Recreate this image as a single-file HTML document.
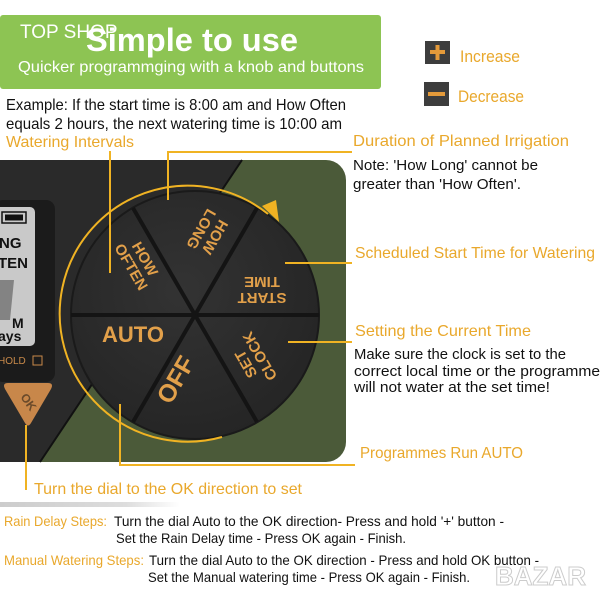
<!DOCTYPE html>
<html><head><meta charset="utf-8"><style>
html,body{margin:0;padding:0;background:#fff;}
svg{display:block;font-family:"Liberation Sans",sans-serif;}
.o{fill:#e9a82c;}
.k{fill:#111;}
.d{fill:#e2a04a;font-weight:bold;}
</style></head><body>
<svg width="600" height="600" viewBox="0 0 600 600" xmlns="http://www.w3.org/2000/svg">
<defs>
<linearGradient id="sh" x1="0" x2="1"><stop offset="0" stop-color="#ccc"/><stop offset="0.7" stop-color="#ddd"/><stop offset="1" stop-color="#fff"/></linearGradient>
<radialGradient id="dial" cx="0.45" cy="0.4" r="0.7"><stop offset="0" stop-color="#333"/><stop offset="1" stop-color="#232323"/></radialGradient>
</defs>
<rect x="0" y="15" width="381" height="74" rx="3" fill="#8dc453"/>
<text x="20" y="38" font-size="19" fill="#fff">TOP SHOP</text>
<text x="86" y="51" font-size="32" font-weight="bold" fill="#fff" textLength="212" lengthAdjust="spacingAndGlyphs">Simple to use</text>
<text x="18" y="72" font-size="16" fill="#fff" textLength="346" lengthAdjust="spacingAndGlyphs">Quicker programmging with a knob and buttons</text>
<rect x="425" y="41" width="25" height="23" fill="#3d3d3d"/>
<rect x="430" y="50" width="15" height="4" fill="#e49a3a"/><rect x="435.5" y="45" width="4" height="15" fill="#e49a3a"/>
<text x="460" y="62" font-size="17" class="o" textLength="60" lengthAdjust="spacingAndGlyphs">Increase</text>
<rect x="424" y="82" width="25" height="24" fill="#3d3d3d"/>
<rect x="428" y="92" width="17" height="4" fill="#e49a3a"/>
<text x="458" y="102" font-size="17" class="o" textLength="66" lengthAdjust="spacingAndGlyphs">Decrease</text>
<text x="6" y="110" font-size="16" class="k" textLength="340" lengthAdjust="spacingAndGlyphs">Example: If the start time is 8:00 am and How Often</text>
<text x="6" y="129" font-size="16" class="k" textLength="336" lengthAdjust="spacingAndGlyphs">equals 2 hours, the next watering time is 10:00 am</text>
<text x="6" y="147" font-size="16" class="o" textLength="128" lengthAdjust="spacingAndGlyphs">Watering Intervals</text>
<text x="353" y="146" font-size="16" class="o" textLength="216" lengthAdjust="spacingAndGlyphs">Duration of Planned Irrigation</text>
<text x="353" y="170" font-size="15" class="k" textLength="185" lengthAdjust="spacingAndGlyphs">Note: 'How Long' cannot be</text>
<text x="353" y="189" font-size="15" class="k" textLength="168" lengthAdjust="spacingAndGlyphs">greater than 'How Often'.</text>
<text x="355" y="258" font-size="16" class="o" textLength="240" lengthAdjust="spacingAndGlyphs">Scheduled Start Time for Watering</text>
<text x="355" y="336" font-size="16" class="o" textLength="176" lengthAdjust="spacingAndGlyphs">Setting the Current Time</text>
<text x="354" y="359" font-size="15" class="k" textLength="212" lengthAdjust="spacingAndGlyphs">Make sure the clock is set to the</text>
<text x="354" y="376" font-size="15" class="k" textLength="246" lengthAdjust="spacingAndGlyphs">correct local time or the programme</text>
<text x="354" y="392" font-size="15" class="k" textLength="196" lengthAdjust="spacingAndGlyphs">will not water at the set time!</text>
<text x="360" y="458" font-size="16" class="o" textLength="163" lengthAdjust="spacingAndGlyphs">Programmes Run AUTO</text>
<text x="34" y="494" font-size="16" class="o" textLength="268" lengthAdjust="spacingAndGlyphs">Turn the dial to the OK direction to set</text>
<rect x="0" y="502" width="180" height="5" fill="url(#sh)"/>
<rect x="0" y="160" width="346" height="302" rx="20" fill="#4b5a39"/>
<rect x="0" y="160" width="30" height="302" fill="#2a2a2a"/>
<polygon points="0,160 242,160 40,462 0,462" fill="#2a2a2a"/>
<line x1="242" y1="160" x2="40" y2="462" stroke="#111" stroke-width="2"/>
<rect x="-6" y="200" width="61" height="182" rx="9" fill="#1b1b1b"/>
<rect x="-6" y="207" width="41" height="139" rx="5" fill="#c9c9c9"/>
<rect x="2" y="212" width="24" height="11" fill="none" stroke="#111" stroke-width="1.5"/>
<rect x="5" y="214.5" width="18" height="6" fill="#111"/>
<text x="-1" y="248" font-size="15" font-weight="bold" fill="#111">NG</text>
<text x="-2" y="268" font-size="15" font-weight="bold" fill="#111">TEN</text>
<path d="M-4,280 L14,280 L10,320 L-4,320Z" fill="#555" opacity="0.6"/>
<text x="12" y="328" font-size="14" font-weight="bold" fill="#111">M</text>
<text x="-2" y="341" font-size="14" font-weight="bold" fill="#111">ays</text>
<text x="-2" y="364" font-size="10" fill="#c98a4a">HOLD</text>
<rect x="33" y="356" width="9" height="9" fill="none" stroke="#c98a4a"/>
<path d="M8,383 L48,383 Q54,383 51,389 L31,423 Q28,428 25,423 L5,389 Q2,383 8,383Z" fill="#c8874a"/>
<text x="0" y="0" font-size="12" font-weight="bold" fill="#6a4a2a" transform="translate(20,397) rotate(55)">OK</text>
<circle cx="195" cy="315" r="124" fill="url(#dial)" stroke="#1a1a1a" stroke-width="2"/>
<g stroke="#141414" stroke-width="4">
<line x1="195" y1="315" x2="319" y2="315"/><line x1="195" y1="315" x2="71" y2="315"/>
<line x1="195" y1="315" x2="257" y2="208"/><line x1="195" y1="315" x2="133" y2="208"/>
<line x1="195" y1="315" x2="257" y2="422"/><line x1="195" y1="315" x2="133" y2="422"/>
</g>
<g class="d" font-size="15" text-anchor="middle">
<g transform="translate(208,233) rotate(120)"><text x="0" y="-3">HOW</text><text x="0" y="13">LONG</text></g>
<g transform="translate(138,263) rotate(60)"><text x="0" y="-3">HOW</text><text x="0" y="13">OFTEN</text></g>
<g transform="translate(262,290) rotate(180)"><text x="0" y="-3">START</text><text x="0" y="13">TIME</text></g>
<g transform="translate(253,360) rotate(-120)"><text x="0" y="-3">SET</text><text x="0" y="13">CLOCK</text></g>
<text x="133" y="342" font-size="22">AUTO</text>
<text x="0" y="0" font-size="25" transform="translate(183,384) rotate(-60)">OFF</text>
</g>
<g stroke="#f0b323" stroke-width="2" fill="none">
<path d="M222,437 A128,128 0 1 1 268,214"/>
<line x1="110" y1="151" x2="110" y2="273"/>
<polyline points="168,200 168,152 352,152"/>
<line x1="285" y1="263" x2="352" y2="263"/>
<line x1="288" y1="342" x2="352" y2="342"/>
<polyline points="120,404 120,465 355,465"/>
<line x1="26" y1="425" x2="26" y2="490"/>
</g>
<polygon points="262,206 276,200 279,222" fill="#f0b323"/>
<text x="4" y="526" font-size="14" class="o" textLength="103" lengthAdjust="spacingAndGlyphs">Rain Delay Steps:</text>
<text x="114" y="526" font-size="14" class="k" textLength="390" lengthAdjust="spacingAndGlyphs">Turn the dial Auto to the OK direction- Press and hold '+' button -</text>
<text x="116" y="543" font-size="14" class="k" textLength="290" lengthAdjust="spacingAndGlyphs">Set the Rain Delay time - Press OK again - Finish.</text>
<text x="4" y="565" font-size="14" class="o" textLength="140" lengthAdjust="spacingAndGlyphs">Manual Watering Steps:</text>
<text x="149" y="565" font-size="14" class="k" textLength="390" lengthAdjust="spacingAndGlyphs">Turn the dial Auto to the OK direction - Press and hold OK button -</text>
<text x="148" y="582" font-size="14" class="k" textLength="322" lengthAdjust="spacingAndGlyphs">Set the Manual watering time - Press OK again - Finish.</text>
<text x="495" y="585" font-size="26" font-weight="bold" fill="#fff" stroke="#ccc" stroke-width="1">BAZAR</text>
</svg>
</body></html>
